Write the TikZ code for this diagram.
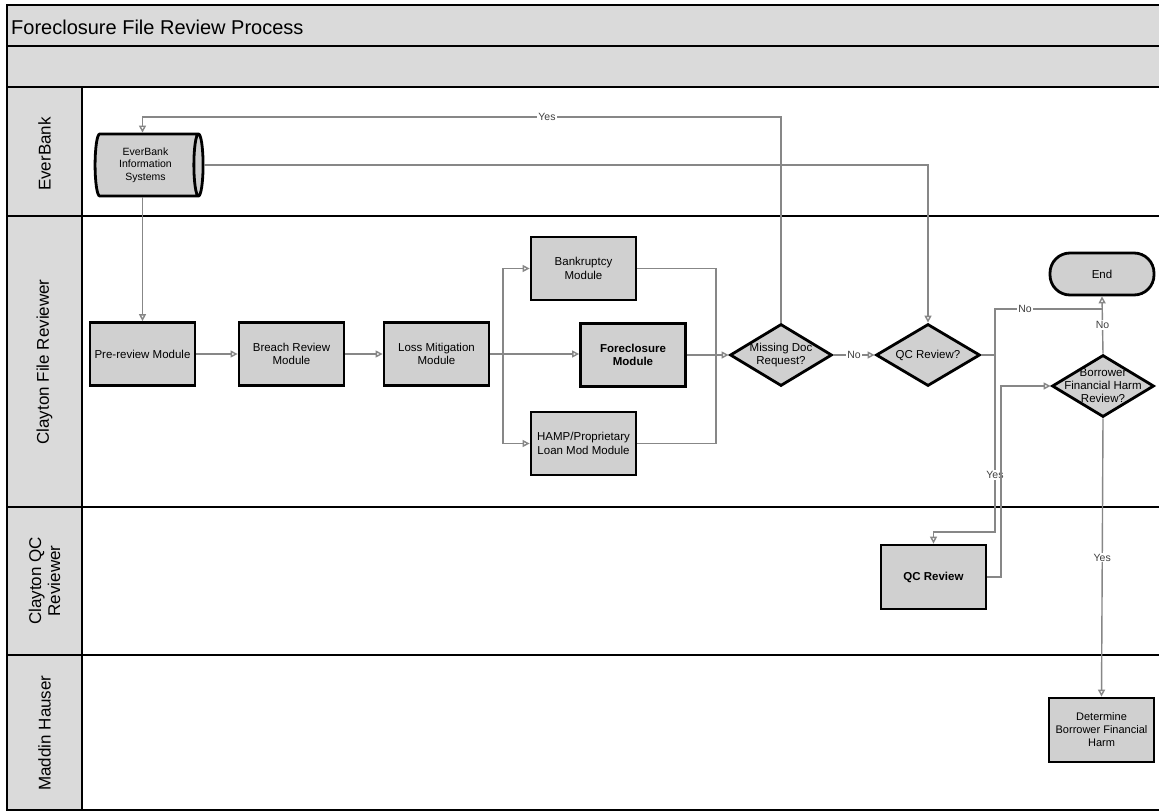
\documentclass[tikz,border=0pt]{standalone}
\usepackage{fontspec}
\setmainfont{Liberation Sans}
\usetikzlibrary{shapes.geometric,arrows.meta}
\definecolor{hdr}{HTML}{DADADA}
\definecolor{boxfill}{HTML}{D0D0D0}
\definecolor{conn}{HTML}{878787}
\tikzset{
 procbox/.style={draw=black, line width=2.8pt, fill=boxfill, minimum width=105pt, minimum height=63pt, inner sep=1pt, align=center, font=\fontsize{11.5}{13.5}\selectfont},
 decbox/.style={diamond, draw=black, line width=2.8pt, fill=boxfill, minimum width=104pt, minimum height=62pt, inner sep=0pt},
 dectext/.style={align=center, font=\fontsize{11.5}{13}\selectfont, inner sep=0pt},
 flow/.style={draw=conn, line width=1.4pt, -{Triangle[open,length=7pt,width=7pt]}},
 plain/.style={draw=conn, line width=1.4pt},
 flowlbl/.style={fill=white, inner sep=1pt, font=\fontsize{10.5}{12}\selectfont, text=black!75},
 lanelbl/.style={rotate=90, align=center, font=\fontsize{17}{19}\selectfont},
 laneline/.style={draw=black, line width=2pt},
}
\begin{document}
\begin{tikzpicture}[x=1pt,y=-1pt]
\useasboundingbox (0,0) rectangle (1159,811);
\fill[white] (0,0) rectangle (1159,811);
% frame and bands
\filldraw[fill=hdr, laneline] (7,4.5) rectangle (1170,45.5);
\filldraw[fill=hdr, laneline] (7,45.5) rectangle (1170,87);
\fill[hdr] (7,87) rectangle (82,810);
\draw[laneline] (7,87) rectangle (1170,810);
\draw[laneline] (82,87) -- (82,810);
\draw[laneline] (7,216) -- (1170,216);
\draw[laneline] (7,507) -- (1170,507);
\draw[laneline] (7,655) -- (1170,655);
% title
\node[anchor=west, font=\fontsize{20}{23}\selectfont, inner sep=0pt] (title) at (11,27) {Foreclosure File Review Process};
% lane labels
\node[lanelbl] (l1) at (44.5,154) {EverBank};
\node[lanelbl] (l2) at (44.5,362) {Clayton File Reviewer};
\node[lanelbl] (l3) at (44.5,581) {Clayton QC\\Reviewer};
\node[lanelbl] (l4) at (44.5,733) {Maddin Hauser};
% nodes
\node[cylinder, draw=black, line width=2.8pt, fill=boxfill, minimum height=108pt, minimum width=62pt, aspect=0.25, align=center, inner sep=1pt, font=\fontsize{10.5}{12.5}\selectfont] (cyl) at (145.5,165) {EverBank\\Information\\Systems};
\node[procbox] (pre) at (142.5,354) {Pre-review Module};
\node[procbox] (breach) at (291.5,354) {Breach Review\\Module};
\node[procbox] (loss) at (436.5,354) {Loss Mitigation\\Module};
\node[procbox] (bank) at (583.5,268.5) {Bankruptcy\\Module};
\node[procbox, font=\fontsize{11.5}{13.5}\selectfont\bfseries] (fore) at (633,355) {Foreclosure\\Module};
\node[procbox] (hamp) at (583.5,443.5) {HAMP/Proprietary\\Loan Mod Module};
\node[decbox, minimum width=102pt, label={[dectext]center:Missing Doc\\Request?}] (miss) at (781,355) {};
\node[decbox, label={[dectext]center:QC Review?}] (qcq) at (928,355) {};
\node[draw=black, line width=2.8pt, fill=boxfill, minimum width=104pt, minimum height=42pt, rounded corners=20pt, font=\fontsize{11.5}{13.5}\selectfont] (end) at (1102,274) {End};
\node[decbox, minimum width=102pt, label={[dectext]center:Borrower\\Financial Harm\\Review?}] (bor) at (1103,386) {};
\node[procbox, minimum height=64pt, font=\fontsize{11.5}{13.5}\selectfont\bfseries] (qcbox) at (933.5,577) {QC Review};
\node[procbox, minimum height=64pt, font=\fontsize{11}{13}\selectfont] (det) at (1101.5,730) {Determine\\Borrower Financial\\Harm};
% helper coordinates
\coordinate (yesline) at (0,117);
\coordinate (br) at (503,354);
\coordinate (mg) at (716,355);
\coordinate (qj) at (995,355);
\coordinate (nl) at (0,309);
\coordinate (yj) at (995,532);
\coordinate (rx) at (1001,0);
% connectors
\draw[flow] (miss.north) |- (pre.north |- yesline) -- (pre.north |- cyl.north);
\node[flowlbl] (lyes1) at (547,117) {Yes};
\draw[flow] (cyl.east) -| (qcq.north);
\draw[flow] (pre.north |- cyl.south) -- (pre.north);
\draw[flow] (pre.east) -- (breach.west);
\draw[flow] (breach.east) -- (loss.west);
\draw[flow] (loss.east) -- (fore.west |- br);
\draw[flow] (br) |- (bank.west);
\draw[flow] (br) |- (hamp.west);
\draw[plain] (bank.east) -| (mg);
\draw[plain] (hamp.east) -| (mg);
\draw[flow] (fore.east) -- (miss.west);
\draw[flow] (miss.east) -- node[flowlbl] (lno1) {No} (qcq.west);
\draw[plain] (qcq.east) -- (qj) |- (end.south |- nl);
\node[flowlbl] (lno2) at (1025,309) {No};
\draw[flow] (bor.north) -- node[flowlbl] (lno3) {No} (end.south);
\draw[flow] (qj) -- (yj) -| (qcbox.north);
\node[flowlbl] (lyes2) at (995,475) {Yes};
\draw[flow] (qcbox.east) -| (rx |- bor.west) -- (bor.west);
\draw[flow] (bor.south) -- node[flowlbl] (lyes3) {Yes} (det.north);
\end{tikzpicture}
\end{document}
